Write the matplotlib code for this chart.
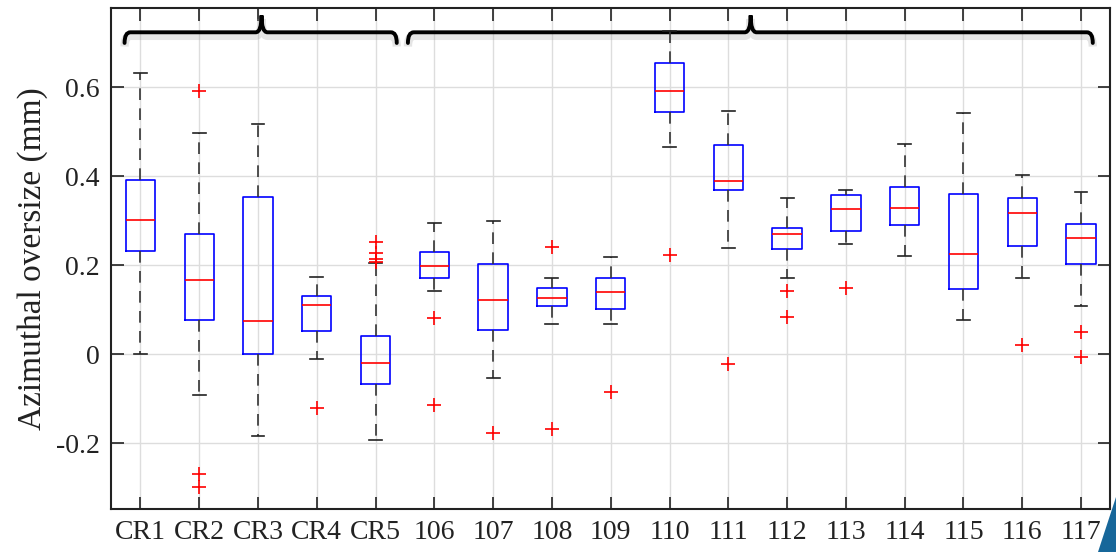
import matplotlib
matplotlib.use("Agg")
import matplotlib.pyplot as plt
from matplotlib.patches import Polygon
from matplotlib.path import Path
from matplotlib.patches import PathPatch

labels = ["CR1", "CR2", "CR3", "CR4", "CR5", "106", "107", "108", "109",
          "110", "111", "112", "113", "114", "115", "116", "117"]
whislo = [0.000, -0.092, -0.184, -0.010, -0.194, 0.142, -0.054, 0.068, 0.067,
          0.467, 0.238, 0.171, 0.247, 0.220, 0.077, 0.172, 0.109]
q1 = [0.232, 0.077, 0.001, 0.052, -0.067, 0.172, 0.054, 0.109, 0.102,
      0.545, 0.369, 0.237, 0.276, 0.291, 0.147, 0.244, 0.202]
med = [0.302, 0.168, 0.074, 0.111, -0.019, 0.198, 0.121, 0.127, 0.140,
       0.593, 0.390, 0.270, 0.326, 0.328, 0.225, 0.318, 0.261]
q3 = [0.392, 0.271, 0.354, 0.132, 0.042, 0.229, 0.204, 0.150, 0.171,
      0.655, 0.470, 0.283, 0.359, 0.376, 0.360, 0.351, 0.292]
whishi = [0.632, 0.497, 0.518, 0.174, 0.205, 0.294, 0.300, 0.172, 0.219,
          0.726, 0.546, 0.351, 0.369, 0.473, 0.542, 0.402, 0.364]
fliers = [[], [0.591, -0.270, -0.298], [], [-0.120],
          [0.252, 0.228, 0.215, 0.208], [0.081, -0.115], [-0.177],
          [0.241, -0.168], [-0.084], [0.224], [-0.022], [0.143, 0.083],
          [0.148], [], [], [0.021], [0.050, -0.007]]

# group braces: (start, tip, end) in box positions
groups = [(0.73, 3.06, 5.36), (5.55, 11.38, 17.2)]

plt.rcParams['font.family'] = ['Liberation Serif', 'DejaVu Serif']

fig = plt.figure(figsize=(11.16, 5.52), dpi=100)
ax = fig.add_axes([0.0995, 0.078, 0.8955, 0.907])

stats = []
for i in range(len(labels)):
    stats.append(dict(med=med[i], q1=q1[i], q3=q3[i], whislo=whislo[i],
                      whishi=whishi[i], fliers=fliers[i], label=labels[i]))

pos = list(range(1, len(labels) + 1))
ax.bxp(stats, positions=pos, widths=0.5, capwidths=0.22,
       boxprops=dict(color='blue', linewidth=1.2),
       medianprops=dict(color='red', linewidth=1.2),
       whiskerprops=dict(color='#333333', linewidth=1.2, linestyle=(0, (7, 5))),
       capprops=dict(color='#222222', linewidth=1.2),
       flierprops=dict(marker='+', markeredgecolor='red', markersize=10,
                       markeredgewidth=1.2, linestyle='none'))

ax.set_xlim(0.5, 17.5)
ax.set_ylim(-0.348, 0.778)
ax.set_yticks([-0.2, 0, 0.2, 0.4, 0.6])
ax.set_yticklabels(["-0.2", "0", "0.2", "0.4", "0.6"])
ax.set_xticks(pos)
ax.set_xticklabels(labels)
ax.tick_params(direction='in', length=9, width=1.2, top=True, right=True,
               labelsize=20, colors='#222222', pad=8)
ax.grid(True, color='#dddddd', linewidth=1.0)
ax.set_axisbelow(True)
for s in ax.spines.values():
    s.set_linewidth(1.5)
    s.set_color('#222222')
ax.set_ylabel("Azimuthal oversize (mm)", fontsize=24, color='#222222',
              labelpad=6)

# curly braces over the two groups
y0, y1, y2 = 0.700, 0.724, 0.762
for a, t, b in groups:
    verts = [(a, y0), (a, y1), (a + 0.1, y1),
             (t - 0.1, y1), (t, y1), (t, y2),
             (t, y1), (t + 0.1, y1),
             (b - 0.1, y1), (b, y1), (b, y0)]
    codes = [Path.MOVETO, Path.CURVE3, Path.CURVE3,
             Path.LINETO, Path.CURVE3, Path.CURVE3,
             Path.CURVE3, Path.CURVE3,
             Path.LINETO, Path.CURVE3, Path.CURVE3]
    shadow = PathPatch(Path([(x, y - 0.008) for x, y in verts], codes),
                       fill=False, lw=6, color='#999999', alpha=0.25)
    ax.add_patch(shadow)
    ax.add_patch(PathPatch(Path(verts, codes), fill=False, lw=2.8,
                           color='black', capstyle='round'))

# blue corner decoration
fig.patches.append(Polygon([(0.984, 0.0), (1.0, 0.0), (1.0, 0.1)],
                           closed=True, transform=fig.transFigure,
                           facecolor='#17679a', edgecolor='none'))

fig.savefig("out.png", dpi=100)
